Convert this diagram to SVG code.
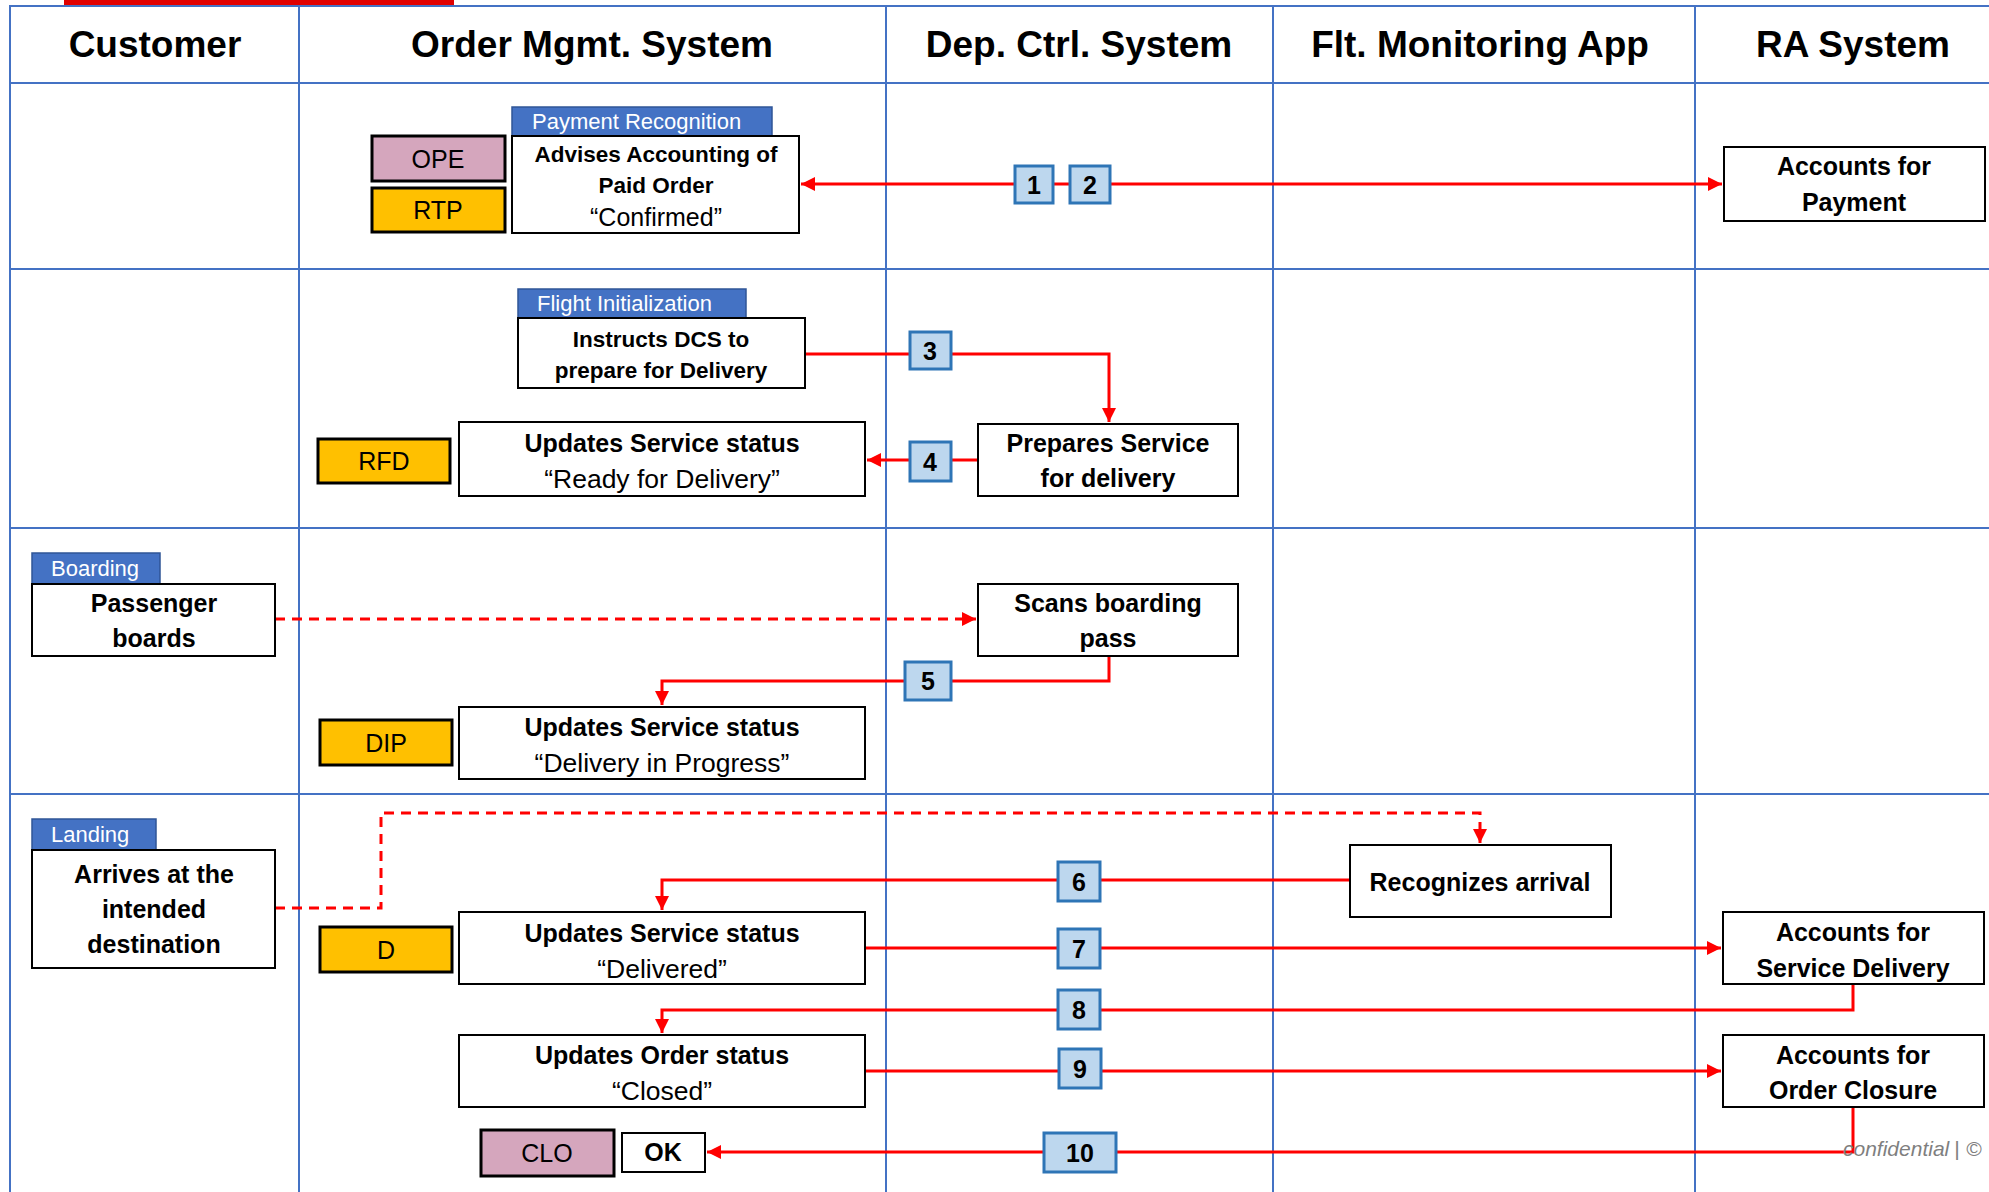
<svg xmlns="http://www.w3.org/2000/svg" width="1989" height="1192" viewBox="0 0 1989 1192">
<defs>
<style>
.grid{stroke:#4472C4;stroke-width:2;fill:none}
.hdr{font-family:"Liberation Sans",Arial,sans-serif;font-weight:bold;font-size:37px;fill:#000;text-anchor:middle}
.box{fill:#fff;stroke:#000;stroke-width:2}
.tab{fill:#4472C4;stroke:#2F5597;stroke-width:1.5}
.tabt{font-family:"Liberation Sans",Arial,sans-serif;font-size:22px;fill:#fff}
.b{font-family:"Liberation Sans",Arial,sans-serif;font-weight:bold;font-size:25px;fill:#000;text-anchor:middle}
.bs{font-family:"Liberation Sans",Arial,sans-serif;font-weight:bold;font-size:22.5px;fill:#000;text-anchor:middle}
.n{font-family:"Liberation Sans",Arial,sans-serif;font-size:26.5px;fill:#000;text-anchor:middle}
.nl{font-family:"Liberation Sans",Arial,sans-serif;font-size:25px;fill:#000;text-anchor:middle}
.ns{font-family:"Liberation Sans",Arial,sans-serif;font-size:25px;fill:#000;text-anchor:middle}
.st{stroke:#000;stroke-width:3}
.pink{fill:#D5A6BD}
.yel{fill:#FFC000}
.c{fill:none;stroke:#FF0000;stroke-width:3}
.d{fill:none;stroke:#FF0000;stroke-width:3;stroke-dasharray:10 7}
.badge{fill:#BDD7EE;stroke:#2E75B6;stroke-width:3}
.bt{font-family:"Liberation Sans",Arial,sans-serif;font-weight:bold;font-size:25px;fill:#000;text-anchor:middle}
.conf{font-family:"Liberation Sans",Arial,sans-serif;font-style:italic;font-size:21px;fill:#7F7F7F}
</style>
<marker id="ah" viewBox="0 0 10 10" refX="10" refY="5" markerWidth="14" markerHeight="14" markerUnits="userSpaceOnUse" orient="auto">
<path d="M0,0 L10,5 L0,10 z" fill="#FF0000"/>
</marker>
</defs>
<rect width="1989" height="1192" fill="#fff"/>
<rect x="64" y="0" width="390" height="6" fill="#E00000"/>
<g id="grid">
<line class="grid" x1="9" y1="6" x2="1989" y2="6"/>
<line class="grid" x1="9" y1="83" x2="1989" y2="83"/>
<line class="grid" x1="9" y1="269" x2="1989" y2="269"/>
<line class="grid" x1="9" y1="528" x2="1989" y2="528"/>
<line class="grid" x1="9" y1="794" x2="1989" y2="794"/>
<line class="grid" x1="10" y1="6" x2="10" y2="1192"/>
<line class="grid" x1="299" y1="6" x2="299" y2="1192"/>
<line class="grid" x1="886" y1="6" x2="886" y2="1192"/>
<line class="grid" x1="1273" y1="6" x2="1273" y2="1192"/>
<line class="grid" x1="1695" y1="6" x2="1695" y2="1192"/>
<text class="hdr" x="155" y="57">Customer</text>
<text class="hdr" x="592" y="57">Order Mgmt. System</text>
<text class="hdr" x="1079" y="57">Dep. Ctrl. System</text>
<text class="hdr" x="1480" y="57">Flt. Monitoring App</text>
<text class="hdr" x="1853" y="57">RA System</text>
</g>
<g id="connectors">
<path class="c" d="M1015 184 H801" marker-end="url(#ah)"/>
<path class="c" d="M1053 184 H1069"/>
<path class="c" d="M1110 184 H1722" marker-end="url(#ah)"/>
<path class="c" d="M805 354 H1109 V422" marker-end="url(#ah)"/>
<path class="c" d="M978 460 H867" marker-end="url(#ah)"/>
<path class="d" d="M275 619 H976" marker-end="url(#ah)"/>
<path class="c" d="M1109 656 V681 H662 V705" marker-end="url(#ah)"/>
<path class="d" d="M275 908 H381 V813 H1480 V843" marker-end="url(#ah)"/>
<path class="c" d="M1350 880 H662 V910" marker-end="url(#ah)"/>
<path class="c" d="M865 948 H1721" marker-end="url(#ah)"/>
<path class="c" d="M1853 984 V1010 H662 V1033" marker-end="url(#ah)"/>
<path class="c" d="M865 1071 H1721" marker-end="url(#ah)"/>
<path class="c" d="M1853 1107 V1152 H707" marker-end="url(#ah)"/>
</g>
<g id="connector-labels">
<rect class="badge" x="1015" y="166" width="38" height="37"/><text class="bt" x="1034" y="194">1</text>
<rect class="badge" x="1070" y="166" width="40" height="37"/><text class="bt" x="1090" y="194">2</text>
<rect class="badge" x="910" y="332" width="41" height="37"/><text class="bt" x="930" y="360">3</text>
<rect class="badge" x="910" y="442" width="41" height="39"/><text class="bt" x="930" y="471">4</text>
<rect class="badge" x="905" y="662" width="46" height="38"/><text class="bt" x="928" y="690">5</text>
<rect class="badge" x="1058" y="862" width="42" height="39"/><text class="bt" x="1079" y="891">6</text>
<rect class="badge" x="1058" y="929" width="42" height="39"/><text class="bt" x="1079" y="958">7</text>
<rect class="badge" x="1058" y="990" width="42" height="39"/><text class="bt" x="1079" y="1019">8</text>
<rect class="badge" x="1059" y="1049" width="42" height="39"/><text class="bt" x="1080" y="1078">9</text>
<rect class="badge" x="1044" y="1133" width="72" height="39"/><text class="bt" x="1080" y="1162">10</text>
</g>
<g id="n-payment-recognition">
<rect class="tab" x="512" y="107" width="260" height="29"/>
<text class="tabt" x="532" y="129">Payment Recognition</text>
<rect class="box" x="512" y="136" width="287" height="97"/>
<text class="bs" x="656" y="162">Advises Accounting of</text>
<text class="bs" x="656" y="193">Paid Order</text>
<text class="ns" x="656" y="226">“Confirmed”</text>
</g>
<g id="n-ope"><rect class="pink st" x="372" y="136" width="133" height="45"/><text class="nl" x="438" y="168">OPE</text></g>
<g id="n-rtp"><rect class="yel st" x="372" y="188" width="133" height="44"/><text class="nl" x="438" y="219">RTP</text></g>
<g id="n-accounts-payment">
<rect class="box" x="1724" y="147" width="261" height="74"/>
<text class="b" x="1854" y="175">Accounts for</text>
<text class="b" x="1854" y="211">Payment</text>
</g>
<g id="n-instructs">
<rect class="tab" x="518" y="289" width="228" height="29"/>
<text class="tabt" x="537" y="311">Flight Initialization</text>
<rect class="box" x="518" y="318" width="287" height="70"/>
<text class="bs" x="661" y="347">Instructs DCS to</text>
<text class="bs" x="661" y="378">prepare for Delivery</text>
</g>
<g id="n-prepares">
<rect class="box" x="978" y="424" width="260" height="72"/>
<text class="b" x="1108" y="452">Prepares Service</text>
<text class="b" x="1108" y="487">for delivery</text>
</g>
<g id="n-rfd-update">
<rect class="box" x="459" y="422" width="406" height="74"/>
<text class="b" x="662" y="452">Updates Service status</text>
<text class="n" x="662" y="488">“Ready for Delivery”</text>
</g>
<g id="n-rfd"><rect class="yel st" x="318" y="439" width="132" height="44"/><text class="nl" x="384" y="470">RFD</text></g>
<g id="n-boarding">
<rect class="tab" x="32" y="553" width="128" height="31"/>
<text class="tabt" x="51" y="576">Boarding</text>
<rect class="box" x="32" y="584" width="243" height="72"/>
<text class="b" x="154" y="612">Passenger</text>
<text class="b" x="154" y="647">boards</text>
</g>
<g id="n-scans">
<rect class="box" x="978" y="584" width="260" height="72"/>
<text class="b" x="1108" y="612">Scans boarding</text>
<text class="b" x="1108" y="647">pass</text>
</g>
<g id="n-dip-update">
<rect class="box" x="459" y="707" width="406" height="72"/>
<text class="b" x="662" y="736">Updates Service status</text>
<text class="n" x="662" y="772">“Delivery in Progress”</text>
</g>
<g id="n-dip"><rect class="yel st" x="320" y="720" width="132" height="45"/><text class="nl" x="386" y="752">DIP</text></g>
<g id="n-landing">
<rect class="tab" x="32" y="819" width="124" height="31"/>
<text class="tabt" x="51" y="842">Landing</text>
<rect class="box" x="32" y="850" width="243" height="118"/>
<text class="b" x="154" y="883">Arrives at the</text>
<text class="b" x="154" y="918">intended</text>
<text class="b" x="154" y="953">destination</text>
</g>
<g id="n-recognizes">
<rect class="box" x="1350" y="845" width="261" height="72"/>
<text class="b" x="1480" y="891">Recognizes arrival</text>
</g>
<g id="n-delivered-update">
<rect class="box" x="459" y="912" width="406" height="72"/>
<text class="b" x="662" y="942">Updates Service status</text>
<text class="n" x="662" y="978">“Delivered”</text>
</g>
<g id="n-d"><rect class="yel st" x="320" y="927" width="132" height="45"/><text class="nl" x="386" y="959">D</text></g>
<g id="n-accounts-sd">
<rect class="box" x="1723" y="912" width="261" height="72"/>
<text class="b" x="1853" y="941">Accounts for</text>
<text class="b" x="1853" y="977">Service Delivery</text>
</g>
<g id="n-closed-update">
<rect class="box" x="459" y="1035" width="406" height="72"/>
<text class="b" x="662" y="1064">Updates Order status</text>
<text class="n" x="662" y="1100">“Closed”</text>
</g>
<g id="n-accounts-oc">
<rect class="box" x="1723" y="1035" width="261" height="72"/>
<text class="b" x="1853" y="1064">Accounts for</text>
<text class="b" x="1853" y="1099">Order Closure</text>
</g>
<g id="n-clo"><rect class="pink st" x="481" y="1130" width="133" height="46"/><text class="nl" x="547" y="1162">CLO</text></g>
<g id="n-ok"><rect class="box" x="622" y="1133" width="83" height="39"/><text class="b" x="663" y="1161">OK</text></g>
<text class="conf" x="1843" y="1156">confidential</text>
<text class="conf" x="1954" y="1156">|</text>
<text class="conf" x="1966" y="1156">©</text>
</svg>
